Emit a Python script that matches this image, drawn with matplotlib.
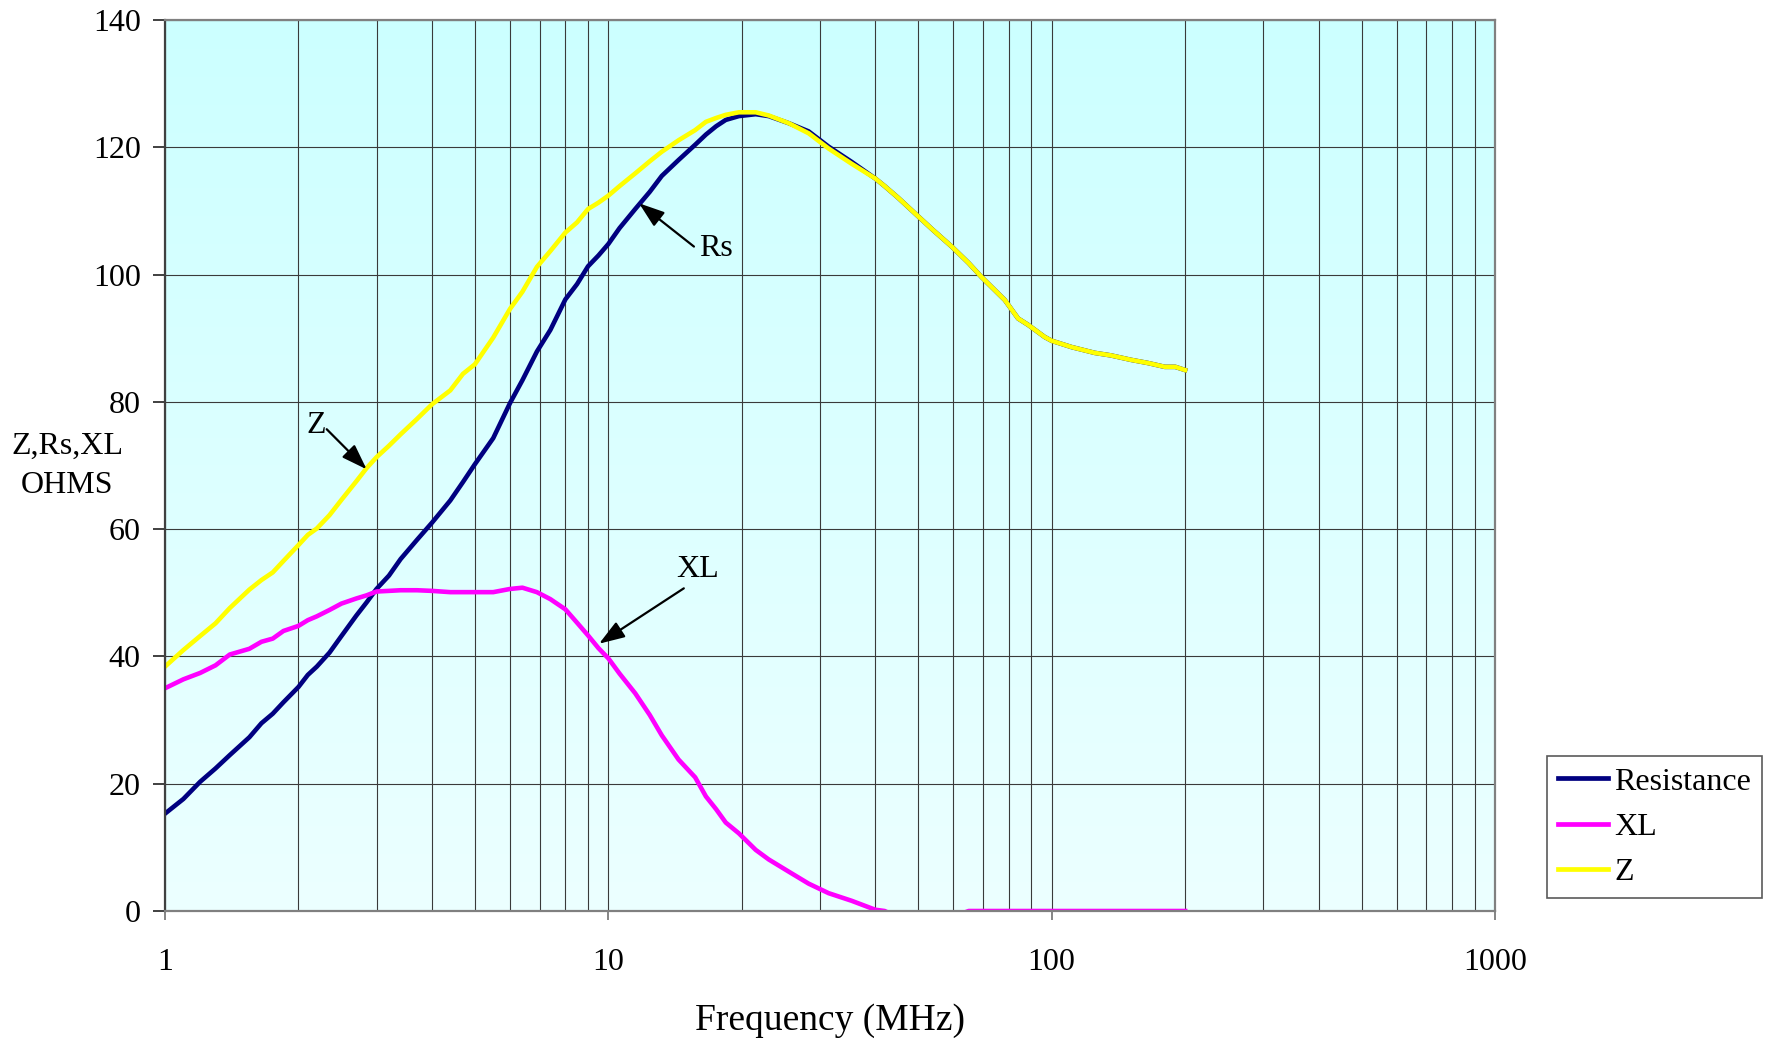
import numpy as np
import matplotlib
matplotlib.use("Agg")
import matplotlib.pyplot as plt
from matplotlib.ticker import FixedLocator, FixedFormatter, NullFormatter, LogLocator

plt.rcParams['font.family'] = ['Liberation Serif', 'DejaVu Serif']

# ---------------- data ----------------
freq_mhz = [1.0, 1.1, 1.2, 1.3, 1.4, 1.55, 1.65, 1.75, 1.85, 2.0, 2.1, 2.2, 2.35, 2.5,
            2.7, 2.85, 3.0, 3.2, 3.4, 3.7, 4.0, 4.4, 4.7, 5.0, 5.5, 6.0, 6.4, 6.9, 7.4,
            8.0, 8.5, 9.0, 9.5, 10.0, 10.6, 11.5, 12.4, 13.2, 14.4, 15.7, 16.6, 17.5,
            18.4, 19.7, 21.5, 23.0, 25.5, 28.3, 31.4, 35.4, 40.0, 42.0, 45.0, 49.2,
            53.6, 59.5, 65.0, 69.5, 78.4, 84.0, 88.5, 96.4, 100, 111, 125, 136, 151,
            165, 180, 190, 200]

z_ohms = [38.4, 41.0, 43.2, 45.2, 47.6, 50.5, 52.0, 53.2, 55.0, 57.5, 59.1, 60.1, 62.2,
          64.6, 67.5, 69.6, 71.3, 73.1, 74.9, 77.3, 79.6, 81.8, 84.4, 85.9, 90.1, 94.6,
          97.3, 101.2, 103.7, 106.6, 108.2, 110.3, 111.3, 112.4, 113.9, 115.9, 117.8,
          119.3, 121.1, 122.7, 124.0, 124.6, 125.1, 125.5, 125.5, 125.0, 123.8, 122.2,
          119.8, 117.4, 115.1, 113.9, 112.1, 109.6, 107.2, 104.4, 101.8, 99.6, 96.0,
          93.1, 92.1, 90.2, 89.6, 88.6, 87.7, 87.3, 86.6, 86.1, 85.5, 85.5, 85.0]

resistance_ohms = [15.3, 17.6, 20.3, 22.4, 24.5, 27.3, 29.5, 31.0, 32.8, 35.2, 37.1, 38.4,
                   40.6, 43.2, 46.4, 48.5, 50.6, 52.7, 55.3, 58.3, 61.0, 64.5, 67.4, 70.2,
                   74.3, 79.8, 83.4, 87.9, 91.3, 96.1, 98.5, 101.3, 103.0, 104.8, 107.3,
                   110.3, 113.0, 115.5, 118.0, 120.4, 122.0, 123.3, 124.3, 124.9, 125.2,
                   124.9, 123.8, 122.5, 120.1, 117.7, 115.1, 113.9, 112.1, 109.6, 107.2,
                   104.4, 101.8, 99.6, 96.0, 93.1, 92.1, 90.2, 89.6, 88.6, 87.7, 87.3,
                   86.6, 86.1, 85.5, 85.5, 85.0]

xl_ohms = [35.0, 36.4, 37.4, 38.6, 40.3, 41.2, 42.3, 42.8, 44.0, 44.8, 45.7, 46.3, 47.3,
           48.3, 49.1, 49.6, 50.2, 50.3, 50.4, 50.4, 50.3, 50.1, 50.1, 50.1, 50.1, 50.6,
           50.8, 50.1, 49.0, 47.4, 45.3, 43.3, 41.3, 39.7, 37.3, 34.2, 30.8, 27.6, 23.8,
           21.0, 18.0, 16.0, 13.9, 12.2, 9.6, 8.1, 6.2, 4.3, 2.8, 1.6, 0.2, 0.0, -1.0,
           -1.0, -1.0, -1.0, 0.0, 0.0, 0.0, 0.0, 0.0, 0.0, 0.0, 0.0, 0.0, 0.0, 0.0,
           0.0, 0.0, 0.0, 0.0]

series_labels = ["Resistance", "XL", "Z"]
x_ticks = [1, 10, 100, 1000]
x_tick_labels = ["1", "10", "100", "1000"]
y_ticks = [0, 20, 40, 60, 80, 100, 120, 140]

# ---------------- figure ----------------
W, H = 1771, 1041
fig = plt.figure(figsize=(W / 100, H / 100), dpi=100)
fig.patch.set_facecolor('white')
L, R, T, B = 165, 1495, 20, 911
ax = fig.add_axes([L / W, 1 - B / H, (R - L) / W, (B - T) / H])

ax.set_xscale('log')

# gradient background
top = np.array([204, 255, 255]) / 255
bot = np.array([236, 255, 255]) / 255
t = np.linspace(0, 1, 256)[:, None]
grad = (top[None, :] * (1 - t) + bot[None, :] * t)[:, None, :]
ax.imshow(grad, extent=[0, 1, 0, 1], transform=ax.transAxes, aspect='auto',
          zorder=0, interpolation='bilinear')

lw = 3.3
ax.plot(freq_mhz, resistance_ohms, color='#000080', lw=lw, label=series_labels[0], zorder=3)
ax.plot(freq_mhz, xl_ohms, color='#FF00FF', lw=lw, label=series_labels[1], zorder=3)
ax.plot(freq_mhz, z_ohms, color='#FFFF00', lw=lw, label=series_labels[2], zorder=3)

ax.set_xlim(1, 1000)
ax.set_ylim(0, 140)

ax.xaxis.set_major_locator(FixedLocator(x_ticks))
ax.xaxis.set_major_formatter(FixedFormatter(x_tick_labels))
ax.xaxis.set_minor_locator(LogLocator(base=10, subs=np.arange(2, 10), numticks=20))
ax.xaxis.set_minor_formatter(NullFormatter())
ax.set_yticks(y_ticks)
ax.set_yticklabels([str(v) for v in y_ticks])

ax.grid(True, which='major', axis='both', color='#3a3a3a', lw=0.8, zorder=1)
ax.grid(True, which='minor', axis='x', color='#3a3a3a', lw=0.8, zorder=1)
ax.set_axisbelow(False)
for gl in ax.get_xgridlines() + ax.get_ygridlines():
    gl.set_zorder(1)

ax.tick_params(axis='x', which='major', length=6.5, width=1.2, color='#707070',
               labelsize=23, pad=20.5, direction='out')
ax.tick_params(axis='x', which='minor', length=0)
ax.tick_params(axis='y', which='major', length=8.5, width=1.2, color='#202020',
               labelsize=23, pad=9, direction='out')

for side in ['left', 'bottom', 'top', 'right']:
    ax.spines[side].set_color('#808080')
    ax.spines[side].set_linewidth(1.6)
    ax.spines[side].set_zorder(4)
ax.spines['left'].set_color('#404040')

# y label (horizontal, two lines)
fig.text(67 / W, 1 - 466 / H, "Z,Rs,XL\nOHMS", ha='center', va='center',
         fontsize=23, linespacing=1.45)
# x label
fig.text(830 / W, 1 - 1021 / H, "Frequency (MHz)", ha='center', va='center', fontsize=27)

# annotations
arrow_kw = dict(arrowstyle='-|>,head_length=1.3,head_width=0.45', color='black',
                lw=1.6, shrinkA=0, shrinkB=0, mutation_scale=12)
ax.annotate('', xy=(2.85, 69.4), xytext=(2.316, 75.7), arrowprops=arrow_kw, zorder=5)
ax.text(2.19, 76.3, "Z", fontsize=23, ha='center', va='center', zorder=5)

ax.annotate('', xy=(11.73, 111.2), xytext=(15.6, 104.4), arrowprops=arrow_kw, zorder=5)
ax.text(16.05, 104.1, "Rs", fontsize=23, ha='left', va='center', zorder=5)

ax.annotate('', xy=(9.53, 42.0), xytext=(14.8, 50.7), arrowprops=arrow_kw, zorder=5)
ax.text(15.9, 53.6, "XL", fontsize=23, ha='center', va='center', zorder=5)

# legend
leg = fig.legend(loc='upper left', bbox_to_anchor=(1547 / W, 1 - 756 / H),
                 fontsize=23, frameon=True, fancybox=False, handlelength=1.55,
                 handletextpad=0.2, labelspacing=0.5, borderpad=0.35,
                 borderaxespad=0)
leg.get_frame().set_edgecolor('#303030')
leg.get_frame().set_linewidth(1.2)
for ln in leg.get_lines():
    ln.set_linewidth(3.4)

fig.savefig('out.png', dpi=100, facecolor='white')
